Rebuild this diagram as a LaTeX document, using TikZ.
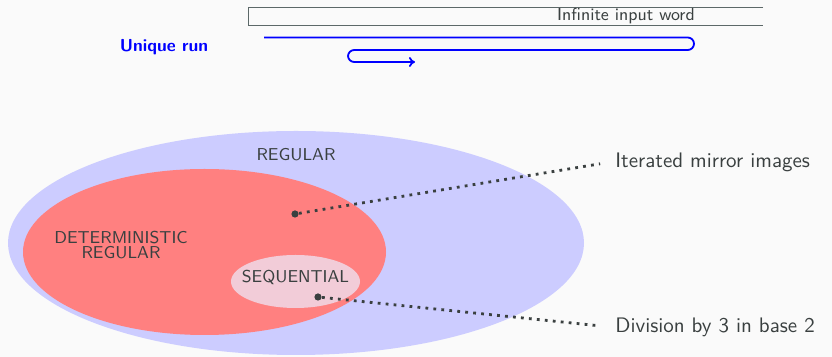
\documentclass[tikz,border=0pt]{standalone}
\usepackage{tikz}
\usetikzlibrary{arrows.meta,positioning,calc,shapes.geometric}
\usepackage{xcolor}
\definecolor{Ink}{HTML}{3A4040}
\definecolor{Paper}{HTML}{FAFAFA}
\definecolor{Tape}{HTML}{5C6868}
\definecolor{RegFill}{HTML}{CCCCFF}
\definecolor{DetFill}{HTML}{FF8080}
\definecolor{SeqFill}{HTML}{F2CCD8}
\tikzset{
  blob/.style={ellipse,inner sep=0pt,draw=none},
  setname/.style={font=\sffamily\fontsize{8.6}{8.6}\selectfont,text=Ink,align=center},
  dot/.style={circle,fill=Ink,inner sep=0pt,minimum size=3.6pt},
  note/.style={font=\sffamily\fontsize{10.5}{12}\selectfont,text=Ink,inner sep=2pt},
  callout/.style={Ink,line width=1.4pt,dash pattern=on 1.4pt off 2.6pt,shorten >=5.5pt}
}
\begin{document}
\begin{tikzpicture}[x=0.5pt,y=-0.5pt]
\fill[Paper] (0,0) rectangle (832,357);
\useasboundingbox (0,0) rectangle (832,357);
% the tape
\draw[Tape,line width=0.5pt] (763,8) -- (248,8) -- (248,26) -- (763,26);
\node[font=\sffamily\fontsize{8.7}{10}\selectfont,text=Ink] (word) at (626,16) {Infinite input word};
% the run
\node[font=\sffamily\bfseries\fontsize{8.7}{10}\selectfont,text=blue] (run) at (164,47) {Unique run};
\coordinate (runstart) at (264,37.5);
\coordinate (runend) at (415,62);
\draw[blue,line width=0.9pt,rounded corners=3.1pt,-{To[length=3pt,width=5pt]}]
  (runstart) -- (694,37.5) -- (694,50) -- (348,50) -- (348,62) -- (runend);
% the classes
\node[blob,fill=RegFill,minimum width=288pt,minimum height=112pt] (reg) at (296,243) {};
\node[blob,fill=DetFill,minimum width=181.5pt,minimum height=83pt] (det) at (204.5,252) {};
\node[blob,fill=SeqFill,minimum width=64.5pt,minimum height=26.5pt] (seq) at (295.5,281.5) {};
\node[setname] (regname) at (296,155) {REGULAR};
\node[setname] (detname) at (121,245) {DETERMINISTIC\\[-1.1pt]REGULAR};
\node[setname] (seqname) at (295.5,277) {SEQUENTIAL};
% examples
\foreach \n/\px/\py/\ly/\t in {mirror/295/214/162/Iterated mirror images,div/318/297/327/Division by 3 in base 2} {
  \node[dot] (p\n) at (\px,\py) {};
  \node[note,anchor=west] (l\n) at (611,\ly) {\t};
  \draw[callout] (p\n) -- (l\n.west);
}
\end{tikzpicture}
\end{document}
